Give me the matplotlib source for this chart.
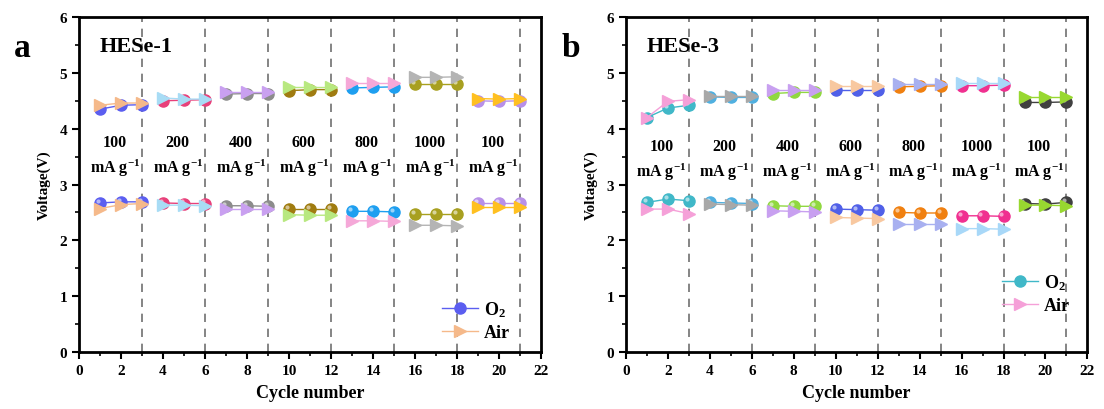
import numpy as np
import matplotlib
matplotlib.use("Agg")
import matplotlib.pyplot as plt
from matplotlib import transforms
from matplotlib.ticker import MultipleLocator

plt.rcParams["font.family"] = ["Liberation Serif", "DejaVu Serif"]
plt.rcParams["font.weight"] = "bold"
plt.rcParams["mathtext.fontset"] = "custom"
plt.rcParams["mathtext.rm"] = "Liberation Serif:bold"
plt.rcParams["mathtext.it"] = "Liberation Serif:bold"
plt.rcParams["mathtext.bf"] = "Liberation Serif:bold"

cycles = np.arange(1, 22)
rates = ["100", "200", "400", "600", "800", "1000", "100"]
boundaries = [3, 6, 9, 12, 15, 18, 21]

# panel a: HESe-1
a_o2_charge = [4.35, 4.42, 4.43, 4.50, 4.51, 4.52, 4.62, 4.63, 4.63, 4.68, 4.70, 4.70,
               4.73, 4.74, 4.75, 4.80, 4.80, 4.80, 4.50, 4.49, 4.50]
a_air_charge = [4.42, 4.46, 4.46, 4.55, 4.53, 4.53, 4.65, 4.65, 4.65, 4.74, 4.74, 4.74,
                4.82, 4.82, 4.82, 4.92, 4.92, 4.93, 4.54, 4.53, 4.54]
a_o2_dis = [2.67, 2.69, 2.69, 2.67, 2.66, 2.66, 2.62, 2.62, 2.61, 2.56, 2.56, 2.56,
            2.52, 2.52, 2.51, 2.47, 2.47, 2.47, 2.67, 2.67, 2.67]
a_air_dis = [2.57, 2.64, 2.66, 2.63, 2.63, 2.62, 2.56, 2.56, 2.56, 2.46, 2.45, 2.45,
             2.35, 2.35, 2.34, 2.27, 2.27, 2.26, 2.60, 2.60, 2.60]
a_o2_colors = ["#5b5ef0", "#e8407a", "#8c8c8c", "#a07c10", "#1e9ff0", "#a8a020", "#b890e8"]
a_air_colors = ["#f5b98a", "#a8dcf5", "#c9a0f0", "#b8e880", "#f5a8d8", "#b4b4b4", "#ffc020"]

# panel b: HESe-3
b_o2_charge = [4.20, 4.37, 4.42, 4.57, 4.56, 4.56, 4.63, 4.65, 4.65, 4.70, 4.70, 4.70,
               4.75, 4.76, 4.77, 4.77, 4.77, 4.78, 4.47, 4.47, 4.48]
b_air_charge = [4.20, 4.49, 4.52, 4.59, 4.59, 4.59, 4.70, 4.70, 4.70, 4.76, 4.76, 4.76,
                4.80, 4.80, 4.80, 4.82, 4.82, 4.82, 4.57, 4.57, 4.57]
b_o2_dis = [2.68, 2.74, 2.71, 2.68, 2.67, 2.66, 2.62, 2.61, 2.61, 2.56, 2.55, 2.54,
            2.50, 2.49, 2.49, 2.44, 2.44, 2.43, 2.66, 2.65, 2.68]
b_air_dis = [2.56, 2.56, 2.48, 2.65, 2.64, 2.63, 2.53, 2.52, 2.51, 2.41, 2.40, 2.39,
             2.29, 2.29, 2.29, 2.21, 2.21, 2.20, 2.63, 2.63, 2.62]
b_o2_colors = ["#40b8c8", "#50b0e0", "#90d840", "#5060e8", "#f08010", "#f03090", "#404040"]
b_air_colors = ["#f5a0d8", "#a8a8a8", "#c8a0f0", "#f8c8a0", "#a8b0f0", "#a8d8f8", "#98d830"]


def draw_panel(ax, fig, o2_c, air_c, o2_d, air_d, o2_cols, air_cols, name, letter,
               rate_y, leg_anchor):
    hl = transforms.offset_copy(ax.transData, fig=fig, x=-1.5, y=1.5, units="points")
    for k in range(7):
        sl = slice(3 * k, 3 * k + 3)
        x = cycles[sl]
        for yy in (o2_c, o2_d):
            ax.plot(x, np.array(yy)[sl], "-o", color=o2_cols[k], ms=8, lw=1,
                    mec=o2_cols[k], zorder=3)
            ax.plot(x, np.array(yy)[sl], "o", color="white", ms=3, alpha=0.55,
                    mec="none", transform=hl, zorder=4)
        for yy in (air_c, air_d):
            ax.plot(x, np.array(yy)[sl], "->", color=air_cols[k], ms=9, lw=1,
                    mec=air_cols[k], zorder=5)
        xm = 3 * k + 1.7
        ax.text(xm, rate_y[0], rates[k], ha="center", va="center", fontsize=11.5,
                fontweight="bold")
        ax.text(xm, rate_y[1], r"mA g$^{-1}$", ha="center", va="center", fontsize=11.5,
                fontweight="bold")
    for b in boundaries:
        ax.axvline(b, color="#707070", ls=(0, (5, 4)), lw=1.2, zorder=1)

    h1, = ax.plot([], [], "-o", color=o2_cols[0], ms=8, lw=1)
    h2, = ax.plot([], [], "->", color=air_cols[0], ms=9, lw=1)
    ax.legend([h1, h2], ["O$_2$", "Air"], loc="upper left", bbox_to_anchor=leg_anchor,
              frameon=False, fontsize=13, handlelength=2.0, handletextpad=0.3,
              labelspacing=0.3, borderaxespad=0)

    ax.set_xlim(0, 22)
    ax.set_ylim(0, 6)
    ax.xaxis.set_major_locator(MultipleLocator(2))
    ax.xaxis.set_minor_locator(MultipleLocator(1))
    ax.yaxis.set_major_locator(MultipleLocator(1))
    ax.yaxis.set_minor_locator(MultipleLocator(0.5))
    ax.tick_params(which="major", direction="out", length=5, width=1.5, labelsize=11)
    ax.tick_params(which="minor", direction="out", length=3, width=1.2)
    for s in ax.spines.values():
        s.set_linewidth(2)
    for lab in ax.get_xticklabels() + ax.get_yticklabels():
        lab.set_fontweight("bold")
    ax.set_xlabel("Cycle number", fontsize=13, fontweight="bold", labelpad=5)
    ax.set_ylabel("Voltage(V)", fontsize=11, fontweight="bold", labelpad=6)
    ax.text(0.045, 0.915, name, transform=ax.transAxes, fontsize=16, fontweight="bold",
            va="center")
    ax.text(-0.14, 0.91, letter, transform=ax.transAxes, fontsize=24, fontweight="bold",
            va="center")


fig = plt.figure(figsize=(11.04, 4.10), dpi=100)
ax1 = fig.add_axes([0.0716, 0.139, 0.4185, 0.817])
ax2 = fig.add_axes([0.567, 0.139, 0.418, 0.817])

draw_panel(ax1, fig, a_o2_charge, a_air_charge, a_o2_dis, a_air_dis, a_o2_colors,
           a_air_colors, "HESe-1", "a", (3.76, 3.30), (0.77, 0.18))
draw_panel(ax2, fig, b_o2_charge, b_air_charge, b_o2_dis, b_air_dis, b_o2_colors,
           b_air_colors, "HESe-3", "b", (3.69, 3.24), (0.80, 0.26))

fig.savefig("out.png", dpi=100)
